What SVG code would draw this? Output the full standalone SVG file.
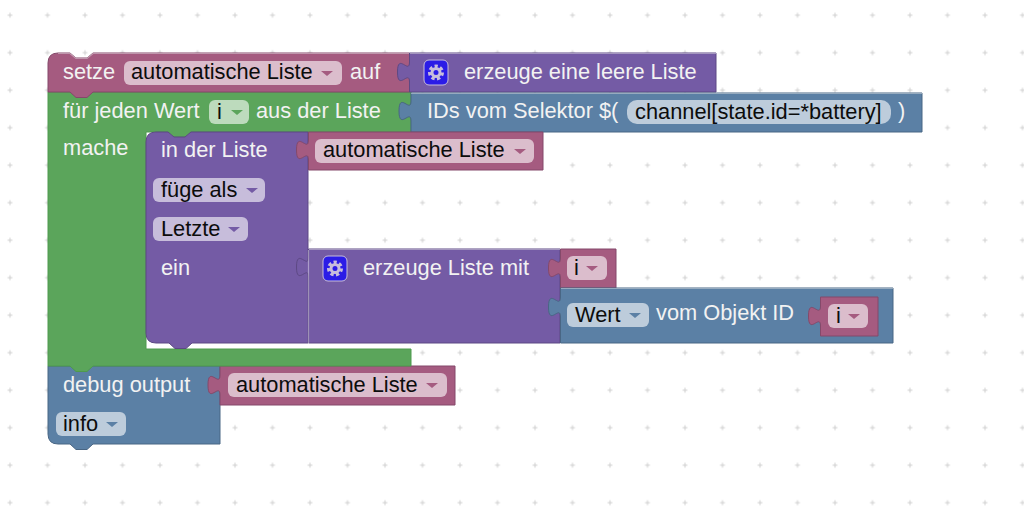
<svg xmlns="http://www.w3.org/2000/svg" width="1024" height="529" viewBox="0 0 1024 529">
<style>
text{font-family:"Liberation Sans",Arial,sans-serif;font-size:21.8px}
.l{fill:#f2f2f2}
.d{fill:#0c0c0c}
.hi{fill:none;stroke:#fff;stroke-opacity:.4;stroke-width:1.2}
.pk{fill:#a55b80;stroke:#84496a;stroke-width:1}
.gr{fill:#5ba55b;stroke:#4e9a4e;stroke-width:1}
.pu{fill:#745ba5;stroke:#5d4984;stroke-width:1}
.bl{fill:#5b80a5;stroke:#496684;stroke-width:1}
.fpk{fill:#dbbdcc}.fgr{fill:#bddbbd}.fpu{fill:#c7bddb}.fbl{fill:#bdccdb}
.apk{fill:#a55b80}.agr{fill:#5ba55b}.apu{fill:#745ba5}.abl{fill:#5b80a5}
.gb{fill:#2b1ce6;stroke:#c7bddb;stroke-width:1}
.gt{fill:none;stroke:#c7bddb;stroke-width:4;stroke-dasharray:3 2.24}
.gc{fill:none;stroke:#c7bddb;stroke-width:3}
</style>
<defs>
<pattern id="grid" patternUnits="userSpaceOnUse" x="-8.75" y="-3.55" width="37.5" height="37.5">
<path d="M18.75 16.3V21.2M16.3 18.75H21.2" stroke="#cfcfcf" stroke-width="1" fill="none"/>
</pattern>
<g id="gear">
<rect class="gb" x="0" y="0" width="24" height="25" rx="5"/>
<circle class="gt" cx="12" cy="12.5" r="6"/>
<circle class="gc" cx="12" cy="12.5" r="4"/>
</g>
</defs>
<rect width="1024" height="529" fill="#fff"/>
<rect width="1024" height="529" fill="url(#grid)"/>

<g id="debug-output">
<path class="bl" d="M48 366H220V444H93l-6 5.500h-11l-6-5.500H58q-10 0-10-10Z"/>
<text class="l" x="63" y="392">debug output</text>
<rect class="fbl" x="56" y="412" width="70" height="24" rx="6"/>
<text class="d" x="63" y="431">info</text>
<path class="abl" d="M106 422h12l-6 5Z"/>
</g>

<g id="debug-value">
<path class="pk" d="M220 366H455V405H220V395c0-13-12 10-12-10s12 3 12-10Z"/>
<rect class="fpk" x="228" y="373" width="219" height="24" rx="6"/>
<text class="d" x="236" y="392">automatische Liste</text>
<path class="apk" d="M426 383h12l-6 5Z"/>
</g>

<g id="for-each">
<path class="gr" d="M48 92H411V132H191l-6 5h-11l-6-5H146V349H411V366H93l-6 5.500h-11l-6-5.500H48Z"/>
<text class="l" x="63" y="118">für jeden Wert</text>
<rect class="fgr" x="209" y="100" width="40" height="24" rx="6"/>
<text class="d" x="217" y="119">i</text>
<path class="agr" d="M231 110h12l-6 5Z"/>
<text class="l" x="256" y="118">aus der Liste</text>
<text class="l" x="63" y="155">mache</text>
</g>

<g id="set-variable">
<path class="pk" d="M48 63q0-10 10-10H70l6 5h11l6-5H409.500V92H93l-6 5.500h-11l-6-5.500H48Z"/>
<path class="hi" d="M58 53.500H70l6 5h11l6-5H409"/>
<text class="l" x="63" y="79">setze</text>
<rect class="fpk" x="124" y="61" width="218" height="24" rx="6"/>
<text class="d" x="131" y="79">automatische Liste</text>
<path class="apk" d="M321 71h12l-6 5Z"/>
<text class="l" x="350" y="79">auf</text>
</g>

<g id="empty-list">
<path class="pu" d="M409.500 53H716V92H409.500V82c0-13-12 10-12-10s12 3 12-10Z"/>
<path class="hi" d="M410 53.500H716"/>
<use href="#gear" x="424" y="60"/>
<text class="l" x="464" y="79">erzeuge eine leere Liste</text>
</g>

<g id="selector">
<path class="bl" d="M411 93H922V132H411V121c0-13-12 10-12-10s12 3 12-10Z"/>
<path class="hi" d="M411 93.500H922"/>
<text class="l" x="427" y="118">IDs vom Selektor $(</text>
<rect class="fbl" x="627" y="100" width="264" height="24" rx="10"/>
<text class="d" x="635" y="119">channel[state.id=*battery]</text>
<text class="l" x="898" y="118">)</text>
</g>

<g id="list-insert">
<path class="pu" d="M146 142q0-10 10-10H168l6 5h11l6-5H308V343H192l-6 5.500h-11l-6-5.500H156q-10 0-10-10Z"/>
<text class="l" x="161" y="157">in der Liste</text>
<rect class="fpu" x="153" y="178" width="112" height="24" rx="6"/>
<text class="d" x="161" y="197">füge als</text>
<path class="apu" d="M246 188h12l-6 5Z"/>
<rect class="fpu" x="153" y="217" width="95" height="24" rx="6"/>
<text class="d" x="161" y="236">Letzte</text>
<path class="apu" d="M228 227h12l-6 5Z"/>
<text class="l" x="161" y="275">ein</text>
</g>

<g id="list-value">
<path class="pk" d="M308.500 132H543V170H308.500V160c0-13-12 10-12-10s12 3 12-10Z"/>
<rect class="fpk" x="315" y="139" width="219" height="24" rx="6"/>
<text class="d" x="323" y="157">automatische Liste</text>
<path class="apk" d="M514 149h12l-6 5Z"/>
</g>

<g id="create-list">
<path class="pu" d="M308.500 249H560V343H308.500V277c0-13-12 10-12-10s12 3 12-10Z"/>
<path class="hi" d="M309 249.500H560M308.500 250V343"/>
<use href="#gear" x="323" y="256"/>
<text class="l" x="363" y="275">erzeuge Liste mit</text>
</g>

<g id="item-i">
<path class="pk" d="M560.500 249H616V288H560.500V278c0-13-12 10-12-10s12 3 12-10Z"/>
<rect class="fpk" x="567" y="256" width="40" height="24" rx="6"/>
<text class="d" x="574" y="275">i</text>
<path class="apk" d="M586 266h12l-6 5Z"/>
</g>

<g id="object-value">
<path class="bl" d="M560.500 288H893V343H560.500V317c0-13-12 10-12-10s12 3 12-10Z"/>
<path class="hi" d="M561 288.500H893"/>
<rect class="fbl" x="567" y="303" width="82" height="24" rx="6"/>
<text class="d" x="575" y="322">Wert</text>
<path class="abl" d="M629 313h12l-6 5Z"/>
<text class="l" x="656" y="320">vom Objekt ID</text>
</g>

<g id="object-id-i">
<path class="pk" d="M820.500 297H878V336H820.500V326c0-13-12 10-12-10s12 3 12-10Z" stroke="#dbbdcc"/>
<rect class="fpk" x="828" y="304" width="40" height="24" rx="6"/>
<text class="d" x="836" y="323">i</text>
<path class="apk" d="M848 314h12l-6 5Z"/>
</g>
</svg>
